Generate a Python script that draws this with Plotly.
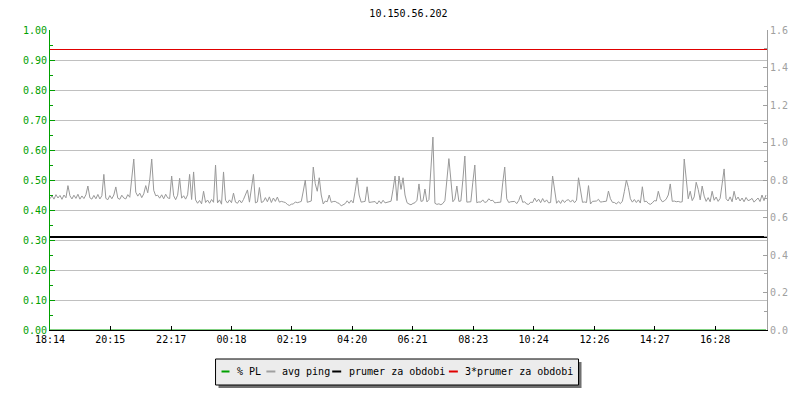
import plotly.graph_objects as go
import pandas as pd

# ---------------- data ----------------
title_text = "10.150.56.202"
start_time = "2024-01-01 18:14"
end_time = "2024-01-02 18:12"
sample_step_min = 4
tick_labels = ["18:14", "20:15", "22:17", "00:18", "02:19", "04:20",
               "06:21", "08:23", "10:24", "12:26", "14:27", "16:28"]

avg_ping = [
    0.700, 0.716, 0.698, 0.722, 0.704, 0.718, 0.697, 0.720, 0.705, 0.770, 0.716, 0.699, 0.719, 0.702, 0.724, 0.698, 0.715, 0.701, 0.721, 0.768,
    0.705, 0.698, 0.718, 0.700, 0.723, 0.699, 0.716, 0.830, 0.702, 0.695, 0.717, 0.700, 0.720, 0.763, 0.703, 0.697, 0.719, 0.704, 0.699, 0.722,
    0.708, 0.800, 0.912, 0.735, 0.714, 0.730, 0.706, 0.726, 0.770, 0.732, 0.800, 0.912, 0.745, 0.716, 0.719, 0.703, 0.721, 0.700, 0.724, 0.705,
    0.701, 0.821, 0.716, 0.695, 0.719, 0.809, 0.703, 0.716, 0.698, 0.721, 0.830, 0.696, 0.843, 0.694, 0.676, 0.691, 0.673, 0.740, 0.680, 0.693,
    0.676, 0.696, 0.681, 0.880, 0.678, 0.694, 0.671, 0.843, 0.692, 0.677, 0.694, 0.679, 0.730, 0.682, 0.676, 0.693, 0.678, 0.696, 0.720, 0.747,
    0.682, 0.770, 0.830, 0.678, 0.683, 0.760, 0.680, 0.685, 0.706, 0.684, 0.710, 0.680, 0.704, 0.686, 0.709, 0.682, 0.686, 0.683, 0.680, 0.670,
    0.664, 0.671, 0.672, 0.683, 0.679, 0.682, 0.686, 0.741, 0.800, 0.681, 0.684, 0.688, 0.869, 0.780, 0.740, 0.812, 0.720, 0.672, 0.688, 0.684,
    0.720, 0.681, 0.685, 0.686, 0.679, 0.675, 0.662, 0.670, 0.674, 0.689, 0.676, 0.692, 0.678, 0.740, 0.812, 0.720, 0.682, 0.684, 0.686, 0.764,
    0.680, 0.682, 0.683, 0.685, 0.672, 0.689, 0.675, 0.692, 0.678, 0.681, 0.682, 0.687, 0.750, 0.821, 0.690, 0.821, 0.750, 0.812, 0.720, 0.679,
    0.672, 0.668, 0.675, 0.679, 0.692, 0.779, 0.686, 0.689, 0.752, 0.683, 0.696, 0.859, 1.029, 0.676, 0.670, 0.673, 0.668, 0.675, 0.690, 0.800,
    0.914, 0.800, 0.684, 0.698, 0.768, 0.686, 0.688, 0.800, 0.928, 0.682, 0.684, 0.684, 0.788, 0.880, 0.679, 0.683, 0.682, 0.694, 0.680, 0.684,
    0.700, 0.690, 0.692, 0.678, 0.680, 0.680, 0.682, 0.785, 0.869, 0.700, 0.680, 0.684, 0.683, 0.686, 0.674, 0.690, 0.720, 0.681, 0.684, 0.672,
    0.670, 0.682, 0.680, 0.704, 0.684, 0.698, 0.679, 0.701, 0.682, 0.694, 0.678, 0.680, 0.821, 0.740, 0.676, 0.690, 0.675, 0.694, 0.680, 0.692,
    0.695, 0.682, 0.694, 0.679, 0.692, 0.812, 0.750, 0.681, 0.683, 0.680, 0.770, 0.672, 0.686, 0.686, 0.688, 0.697, 0.682, 0.684, 0.684, 0.687,
    0.741, 0.700, 0.681, 0.680, 0.672, 0.684, 0.674, 0.687, 0.740, 0.800, 0.760, 0.700, 0.682, 0.696, 0.680, 0.694, 0.677, 0.764, 0.684, 0.687,
    0.675, 0.670, 0.678, 0.690, 0.688, 0.740, 0.700, 0.684, 0.688, 0.699, 0.720, 0.779, 0.686, 0.688, 0.684, 0.686, 0.682, 0.684, 0.912, 0.800,
    0.700, 0.740, 0.690, 0.710, 0.788, 0.750, 0.694, 0.768, 0.714, 0.686, 0.706, 0.684, 0.740, 0.692, 0.709, 0.686, 0.702, 0.779, 0.859, 0.700,
    0.688, 0.710, 0.684, 0.740, 0.694, 0.709, 0.688, 0.704, 0.684, 0.707, 0.690, 0.694, 0.702, 0.682, 0.696, 0.704, 0.685, 0.720, 0.690, 0.720,
]
pl_values = [0.0] * len(avg_ping)      # packet loss: 0 % throughout
mean_value = 0.496                     # prumer za obdobi
mean3_value = 1.496                    # 3*prumer za obdobi

legend_names = ["% PL", "avg ping", "prumer za obdobi", "3*prumer za obdobi"]
legend_colors = ["#00a000", "#a0a0a0", "#000000", "#e00000"]

# ---------------- derived ----------------
t0 = pd.Timestamp(start_time)
t_end = pd.Timestamp(end_time)
times = [t0 + pd.Timedelta(minutes=sample_step_min * i) for i in range(len(avg_ping))]
tick_vals = []
for lab in tick_labels:
    hh, mm = map(int, lab.split(":"))
    t = t0.normalize() + pd.Timedelta(hours=hh, minutes=mm)
    if t < t0:
        t += pd.Timedelta(days=1)
    tick_vals.append(t)

FONT = "DejaVu Sans Mono"
GREEN = "#00a000"
GRAY = "#a0a0a0"

fig = go.Figure()
fig.add_trace(go.Scatter(x=times, y=pl_values, mode="lines", line=dict(color=legend_colors[0], width=1),
                         name=legend_names[0], yaxis="y"))
fig.add_trace(go.Scatter(x=times, y=avg_ping, mode="lines", line=dict(color="#999999", width=1),
                         name=legend_names[1], yaxis="y2"))
fig.add_trace(go.Scatter(x=[t0, t_end], y=[mean_value, mean_value], mode="lines",
                         line=dict(color="#000000", width=2), name=legend_names[2], yaxis="y2"))
fig.add_trace(go.Scatter(x=[t0, t_end], y=[mean3_value, mean3_value], mode="lines",
                         line=dict(color="#e00000", width=1), name=legend_names[3], yaxis="y2"))

# plot area in pixels
L, R, T, B = 50, 769, 30, 330
W, H = 800, 400


def px(x):
    return (x - L) / (R - L)


def py(y):
    return (B - y) / (B - T)


shapes = []
annotations = []
# legend box with shadow
bx0, bx1, by0, by1 = 216, 580, 359, 385
shapes.append(dict(type="rect", xref="paper", yref="paper", x0=px(bx0 + 3), x1=px(bx1 + 3),
                   y0=py(by0 + 3), y1=py(by1 + 3), fillcolor="#707070", line=dict(width=0), layer="above"))
shapes.append(dict(type="rect", xref="paper", yref="paper", x0=px(bx0), x1=px(bx1),
                   y0=py(by0), y1=py(by1), fillcolor="#ececec", line=dict(color="#000000", width=1), layer="above"))
seg_x = [(222, 230), (267, 276), (333, 342), (450, 459)]
text_x = [236, 281, 348, 464]
ly = 371.5
for (a, b), tx, name, col in zip(seg_x, text_x, legend_names, legend_colors):
    shapes.append(dict(type="line", xref="paper", yref="paper", x0=px(a), x1=px(b), y0=py(ly), y1=py(ly),
                       line=dict(color=col, width=2), layer="above"))
    annotations.append(dict(xref="paper", yref="paper", x=px(tx), y=py(ly), text=name, showarrow=False,
                            xanchor="left", yanchor="middle", font=dict(family=FONT, size=10, color="#000000")))

fig.update_layout(
    width=W, height=H,
    margin=dict(l=L, r=W - R, t=T, b=H - B, pad=0),
    paper_bgcolor="white", plot_bgcolor="white",
    showlegend=False,
    title=dict(text=title_text, x=0.5, xref="paper", xanchor="center", y=1 - 13 / H, yref="container",
               yanchor="middle", font=dict(family=FONT, size=10, color="#000000")),
    font=dict(family=FONT, size=10),
    xaxis=dict(type="date", range=[t0, t_end], tickvals=tick_vals, ticktext=tick_labels,
               showgrid=False, zeroline=False, showline=True, linecolor="#000000", linewidth=1,
               ticks="inside", ticklen=4, tickcolor="#000000", tickfont=dict(family=FONT, size=10, color="#000000")),
    yaxis=dict(range=[0, 1], dtick=0.1, tick0=0, tickformat=".2f", showgrid=True, gridcolor="#c0c0c0", gridwidth=1,
               zeroline=False, showline=True, linecolor=GREEN, linewidth=1,
               ticks="inside", ticklen=5, tickcolor=GREEN, tickfont=dict(family=FONT, size=10, color=GREEN),
               minor=dict(ticks="inside", ticklen=3, dtick=0.05, tickcolor=GREEN, showgrid=False)),
    yaxis2=dict(range=[0, 1.6], dtick=0.2, tick0=0, tickformat=".1f", overlaying="y", side="right",
                showgrid=False, zeroline=False, showline=True, linecolor=GRAY, linewidth=1,
                ticks="inside", ticklen=4, tickcolor=GRAY, tickfont=dict(family=FONT, size=10, color=GRAY),
                minor=dict(ticks="inside", ticklen=3, dtick=0.1, tickcolor=GRAY, showgrid=False)),
    shapes=shapes,
    annotations=annotations,
)

fig.write_html("out.html", config={"displayModeBar": False},
               post_script="document.body.style.margin='0px';document.body.style.padding='0px';")
